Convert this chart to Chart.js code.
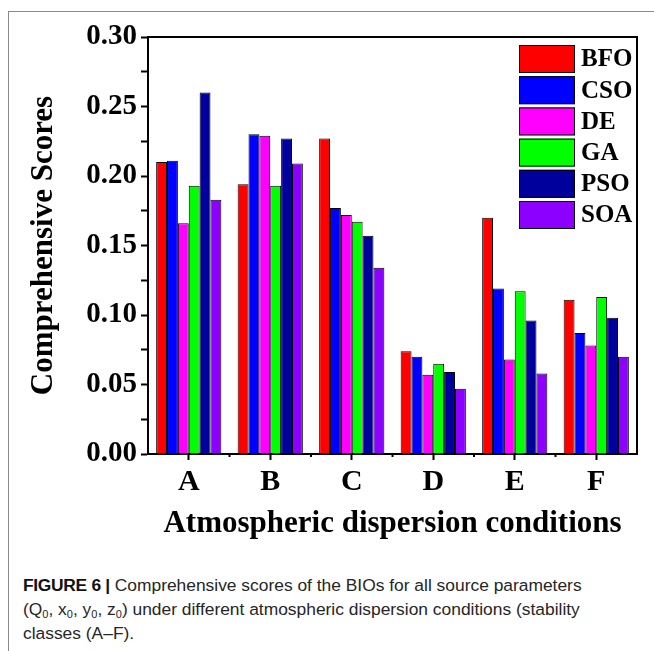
<!DOCTYPE html>
<html>
<head>
<meta charset="utf-8">
<script src="https://cdn.jsdelivr.net/npm/chart.js@4.4.1/dist/chart.umd.min.js"></script>
<style>
	html, body { margin: 0; padding: 0; background: #fff; }
	#wrap { position: relative; width: 654px; height: 651px; overflow: hidden; }
	#frameTop { position: absolute; left: 8px; top: 11px; width: 646px; border-top: 1px solid #8a8a8a; }
	#frameLeft { position: absolute; left: 8px; top: 11px; height: 640px; border-left: 1px solid #8a8a8a; }
	#chartBox { position: absolute; left: 0; top: 0; width: 654px; height: 560px; }
	#caption { position: absolute; left: 23px; top: 573px; width: 630px; font: 17.4px "Liberation Sans", Arial, sans-serif; line-height: 24px; color: #262626; white-space: nowrap; }
	#caption b { font-weight: bold; color: #111; letter-spacing: -0.3px; }
	#caption sub { font-size: 11px; line-height: 0; vertical-align: -3px; }
</style>
</head>
<body>
<div id="wrap">
	<div id="frameTop"></div>
	<div id="frameLeft"></div>
	<div id="chartBox"><canvas id="chart" width="654" height="560"></canvas></div>
	<div id="caption"><b>FIGURE 6 |</b> Comprehensive scores of the BIOs for all source parameters<br>(Q<sub>0</sub>, x<sub>0</sub>, y<sub>0</sub>, z<sub>0</sub>) under different atmospheric dispersion conditions (stability<br>classes (A–F).</div>
</div>
<script>
( function () {
	'use strict';

	// Stability classes on the x axis.
	const categories = [ 'A', 'B', 'C', 'D', 'E', 'F' ];

	// Comprehensive score of each algorithm, one value per class.
	const bfo = [ 0.210, 0.194, 0.227, 0.074, 0.170, 0.111 ];
	const cso = [ 0.211, 0.230, 0.177, 0.070, 0.119, 0.087 ];
	const de = [ 0.166, 0.229, 0.172, 0.057, 0.068, 0.078 ];
	const ga = [ 0.193, 0.193, 0.167, 0.065, 0.117, 0.113 ];
	const pso = [ 0.260, 0.227, 0.157, 0.059, 0.096, 0.098 ];
	const soa = [ 0.183, 0.209, 0.134, 0.047, 0.058, 0.070 ];

	const seriesNames = [ 'BFO', 'CSO', 'DE', 'GA', 'PSO', 'SOA' ];
	const seriesValues = [ bfo, cso, de, ga, pso, soa ];
	const seriesColors = [ '#ff0000', '#0000ff', '#ff00ff', '#00ff00', '#00009c', '#8c00ff' ];

	const SERIF = '"Liberation Serif", "Times New Roman", serif';

	const datasets = seriesNames.map( ( name, i ) => ( {
		label: name,
		data: seriesValues[ i ],
		backgroundColor: seriesColors[ i ],
		borderColor: '#000',
		borderWidth: 1,
		categoryPercentage: 0.8,
		barPercentage: 1.0,
	} ) );

	// Top/right frame of the plot plus minor ticks between classes.
	const framePlugin = {
		id: 'frame',
		afterDraw( chart ) {
			const { ctx, chartArea: a } = chart;
			ctx.save();
			ctx.strokeStyle = '#000';
			ctx.lineWidth = 2;
			ctx.beginPath();
			ctx.moveTo( a.left, a.top );
			ctx.lineTo( a.right, a.top );
			ctx.lineTo( a.right, a.bottom );
			ctx.stroke();
			const step = ( a.right - a.left ) / categories.length;
			ctx.beginPath();
			for ( let i = 1; i < categories.length; i++ ) {
				const x = a.left + i * step;
				ctx.moveTo( x, a.bottom );
				ctx.lineTo( x, a.bottom + 3 );
			}
			ctx.stroke();
			ctx.restore();
		},
	};

	// Legend boxes drawn inside the plot, top right.
	const legendPlugin = {
		id: 'insideLegend',
		afterDraw( chart ) {
			const { ctx } = chart;
			ctx.save();
			ctx.font = 'bold 25px ' + SERIF;
			ctx.textBaseline = 'middle';
			chart.data.datasets.forEach( ( ds, i ) => {
				const y = 45 + i * 31.2;
				ctx.fillStyle = ds.backgroundColor;
				ctx.fillRect( 519, y, 56, 28 );
				ctx.strokeStyle = '#000';
				ctx.lineWidth = 1;
				ctx.strokeRect( 519.5, y + 0.5, 55, 27 );
				ctx.fillStyle = '#000';
				ctx.fillText( ds.label, 581, y + 15 );
			} );
			ctx.restore();
		},
	};

	new Chart( document.getElementById( 'chart' ), {
		type: 'bar',
		data: { labels: categories, datasets },
		plugins: [ framePlugin, legendPlugin ],
		options: {
			responsive: false,
			animation: false,
			layout: { padding: { left: 0, top: 37, right: 17, bottom: 0 } },
			plugins: { legend: { display: false }, tooltip: { enabled: false } },
			scales: {
				x: {
					grid: { offset: false, drawOnChartArea: false, tickLength: 6, tickWidth: 2, tickColor: '#000' },
					border: { color: '#000', width: 2 },
					ticks: { color: '#000', padding: 4, font: { family: SERIF, size: 30, weight: 'bold' } },
					title: { display: true, text: 'Atmospheric dispersion conditions', color: '#000', padding: 17, font: { family: SERIF, size: 31, weight: 'bold' } },
					afterFit( scale ) { scale.height = 106; },
				},
				y: {
					min: 0,
					max: 0.3,
					grid: { drawOnChartArea: false, tickLength: 7, tickWidth: 2, tickColor: '#000' },
					border: { color: '#000', width: 2 },
					ticks: {
						stepSize: 0.025,
						color: '#000',
						padding: 4,
						autoSkip: false,
						font: { family: SERIF, size: 29, weight: 'bold' },
						callback: ( v ) => ( Math.round( v * 1000 ) % 50 === 0 ? v.toFixed( 2 ) : '' ),
					},
					title: { display: true, text: 'Comprehensive Scores', color: '#000', padding: 25, font: { family: SERIF, size: 31, weight: 'bold' } },
					afterFit( scale ) { scale.width = 148; },
				},
			},
		},
	} );
} )();
</script>
</body>
</html>
